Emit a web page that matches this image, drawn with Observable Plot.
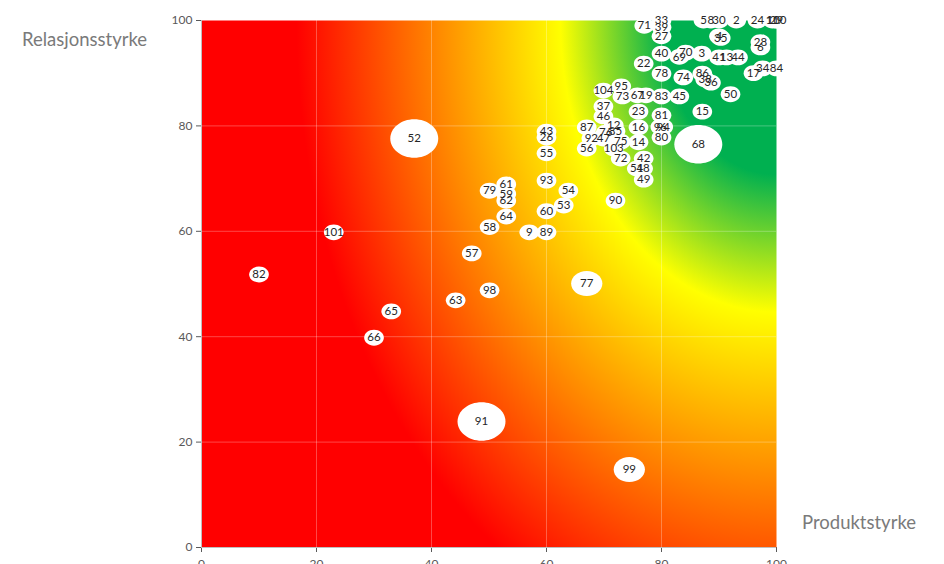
<!DOCTYPE html>
<html><head><meta charset="utf-8">
<script src="https://cdn.jsdelivr.net/npm/d3@7"></script>
<script src="https://cdn.jsdelivr.net/npm/@observablehq/plot@0.6"></script>
<style>
body{margin:0;background:#fff;}
#wrap{position:relative;width:944px;height:564px;overflow:hidden;font-family:Lato,"Open Sans",sans-serif;}
.ttl{position:absolute;color:#7a7a7a;font-size:18.5px;font-weight:400;white-space:nowrap;}
</style></head>
<body><div id="wrap">
<div class="ttl" style="left:22px;top:28px;">Relasjonsstyrke</div>
<div class="ttl" style="left:802px;top:511px;">Produktstyrke</div>
</div>
<script>
const labels = [71,33,39,27,5,8,30,2,24,11,29,100,4,35,28,6,40,70,69,3,41,13,44,22,34,17,84,78,74,86,38,36,50,95,104,73,67,19,83,45,37,46,23,81,15,87,12,76,85,16,96,94,92,47,75,80,14,56,103,72,42,51,48,49,90,68,43,26,55,93,54,61,79,59,62,60,53,64,58,9,89,57,77,98,63,101,82,65,66,52,91,99];
const produkt = [77,80,80,80,87.3,88.6,90,93,96.7,99.3,100,100,90,90.3,97.2,97.2,80,84.2,83.1,87,90,91.3,93.3,76.9,97.6,96,100,80,83.8,87.1,87.6,88.6,92,73,69.9,73.2,75.8,77.3,80,83.1,69.9,69.9,76,80,87.1,67,71.7,70.3,72,76,79.8,80.3,67.8,69.9,72.9,80,76,67,71.7,72.9,76.9,75.7,76.8,76.9,72,86.4,60,60,60,60,63.8,53,50.1,53,53,60,63,53,50.1,57,60,47,67,50.1,44.2,23,10,33,30,37,48.7,74.4];
const relasjon = [99,100,98.7,97,100,100,100,100,100,100,100,100,97,96.7,95.9,94.9,93.7,93.9,93.1,93.7,93,93,93,91.8,90.9,90,90.9,89.9,89.2,89.9,88.8,88.2,86,87.5,86.7,85.6,85.8,85.8,85.6,85.6,83.7,81.8,82.7,82,82.7,79.7,80.1,78.7,79,79.7,79.8,79.8,77.6,77.6,77,77.8,76.9,75.7,75.7,73.8,73.8,71.9,71.9,69.8,65.8,76.5,78.9,77.8,74.8,69.6,67.7,68.9,67.7,67.1,65.8,63.8,64.9,62.8,60.8,59.8,59.8,55.8,50.1,48.8,46.9,59.8,51.8,44.8,39.8,77.6,23.9,14.8];
const storrelse = labels.map(l => ({68:8,52:8,91:8,77:3.4,99:3.4})[l] || 1.35);
const ticks = [0,20,40,60,80,100];

const data = labels.map((l,i)=>({label:String(l), x:produkt[i], y:relasjon[i], s:storrelse[i]}));

const ellipse = {draw(ctx, size){
  const r = Math.sqrt(size/Math.PI), rx = r*1.12, ry = r*0.9, k = 0.5523;
  ctx.moveTo(rx,0);
  ctx.bezierCurveTo(rx, ry*k, rx*k, ry, 0, ry);
  ctx.bezierCurveTo(-rx*k, ry, -rx, ry*k, -rx, 0);
  ctx.bezierCurveTo(-rx, -ry*k, -rx*k, -ry, 0, -ry);
  ctx.bezierCurveTo(rx*k, -ry, rx, -ry*k, rx, 0);
  ctx.closePath();
}};

const chart = Plot.plot({
  width: 944, height: 580,
  marginLeft: 201, marginRight: 168, marginTop: 20, marginBottom: 33,
  style: {fontFamily: "Lato, 'Open Sans', sans-serif", fontSize: "12px", color: "#595959", background: "transparent"},
  x: {domain: [0,100], ticks: ticks, label: null, tickSize: 5, tickPadding: 7},
  y: {domain: [0,100], ticks: ticks, label: null, tickSize: 5},
  r: {type: "sqrt", domain: [0,8], range: [0,21.4]},
  marks: [
    Plot.frame({fill: "#f00", stroke: null}),
    Plot.ruleX([20,40,60,80], {stroke: "#fff", strokeOpacity: 0.28}),
    Plot.ruleY([20,40,60,80], {stroke: "#fff", strokeOpacity: 0.28}),
    Plot.ruleX([0], {stroke: "#bfbfbf"}),
    Plot.ruleY([0], {stroke: "#bfbfbf"}),
    Plot.dot(data, {x: "x", y: "y", r: "s", symbol: ellipse, fill: "#fff", stroke: "none"}),
    Plot.text(data, {x: "x", y: "y", text: "label", fill: "#262626", fontSize: 11.5})
  ]
});

const svgEl = chart.tagName.toLowerCase()==="svg" ? chart : chart.querySelector("svg");
const svg = d3.select(svgEl);
const sx = chart.scale("x"), sy = chart.scale("y");
const cx = sx.apply(100), cy = sy.apply(100);
const defs = svg.insert("defs", ":first-child");
const g = defs.append("radialGradient").attr("id","bg").attr("gradientUnits","userSpaceOnUse")
  .attr("cx",cx).attr("cy",cy).attr("r",600)
  .attr("gradientTransform",`translate(${cx},${cy}) scale(1,1.35) translate(${-cx},${-cy})`);
[[0,"#00b050"],[0.19,"#00b050"],[0.36,"#ffff00"],[0.56,"#ff8c00"],[0.8,"#ff0000"],[1,"#ff0000"]]
  .forEach(([o,c])=>g.append("stop").attr("offset",o).attr("stop-color",c));
svg.selectAll("[aria-label=frame]").each(function(){
  const el = d3.select(this);
  if (this.tagName.toLowerCase()==="rect") el.attr("fill","url(#bg)");
  el.selectAll("rect").attr("fill","url(#bg)");
});
chart.style.position = "absolute"; chart.style.left = "0"; chart.style.top = "0";
document.getElementById("wrap").prepend(chart);
</script>
</body></html>
